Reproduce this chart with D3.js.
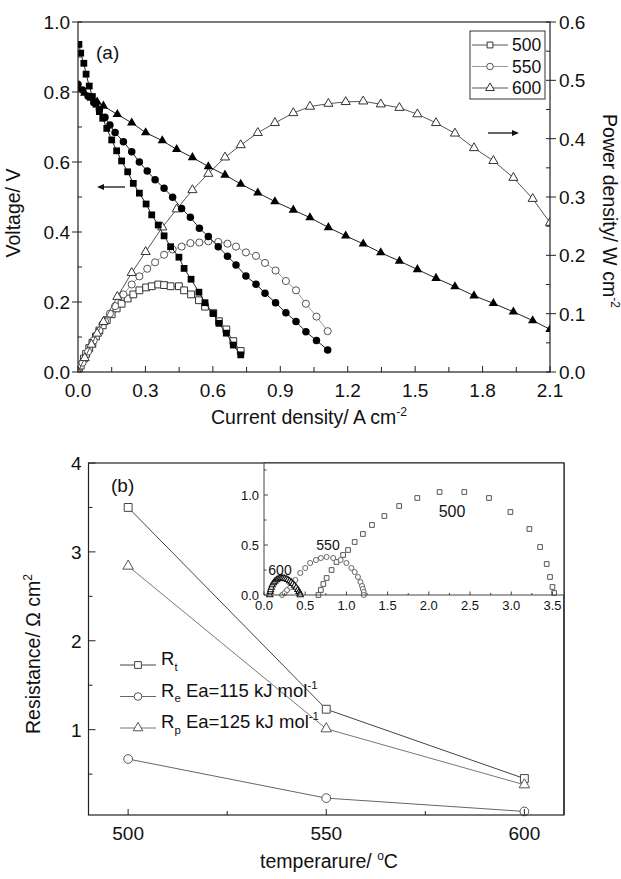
<!DOCTYPE html>
<html>
<head>
<meta charset="utf-8">
<script src="https://cdn.jsdelivr.net/npm/d3@7"></script>
<style>
  body { margin: 0; background: #fff; }
  svg { display: block; }
  text { font-family: "Liberation Sans", Arial, Helvetica, sans-serif; fill: #111; }
</style>
</head>
<body>
<svg id="chart" width="621" height="879"></svg>
<script>
// ---------- (a) I-V and I-P curves ----------
const current500 = [0.004, 0.012, 0.026, 0.036, 0.050, 0.064, 0.080, 0.095, 0.110, 0.128, 0.150, 0.172, 0.194, 0.221, 0.246, 0.273, 0.303, 0.328, 0.357, 0.383, 0.412, 0.449, 0.472, 0.503, 0.538, 0.565, 0.602, 0.627, 0.660, 0.691, 0.724];
const voltage500 = [0.936, 0.911, 0.882, 0.851, 0.817, 0.787, 0.765, 0.744, 0.725, 0.696, 0.663, 0.632, 0.603, 0.572, 0.539, 0.511, 0.480, 0.449, 0.420, 0.389, 0.358, 0.328, 0.296, 0.265, 0.228, 0.198, 0.167, 0.139, 0.111, 0.077, 0.049];
const power500   = [0.004, 0.011, 0.023, 0.031, 0.041, 0.050, 0.061, 0.071, 0.080, 0.089, 0.099, 0.109, 0.117, 0.126, 0.133, 0.140, 0.145, 0.147, 0.150, 0.149, 0.147, 0.147, 0.140, 0.133, 0.123, 0.112, 0.101, 0.087, 0.073, 0.053, 0.036];

const current550 = [0, 0.020, 0.045, 0.070, 0.095, 0.120, 0.142, 0.165, 0.202, 0.239, 0.273, 0.308, 0.343, 0.383, 0.421, 0.461, 0.500, 0.540, 0.580, 0.624, 0.665, 0.703, 0.747, 0.792, 0.832, 0.879, 0.925, 0.970, 1.014, 1.061, 1.111];
const voltage550 = [0.822, 0.806, 0.788, 0.770, 0.750, 0.728, 0.706, 0.684, 0.658, 0.629, 0.600, 0.574, 0.549, 0.525, 0.499, 0.467, 0.442, 0.411, 0.387, 0.358, 0.331, 0.306, 0.274, 0.251, 0.225, 0.198, 0.169, 0.144, 0.115, 0.090, 0.063];
const power550   = [0, 0.016, 0.035, 0.054, 0.071, 0.087, 0.100, 0.113, 0.133, 0.150, 0.164, 0.177, 0.188, 0.201, 0.210, 0.215, 0.221, 0.222, 0.224, 0.223, 0.220, 0.215, 0.205, 0.199, 0.187, 0.174, 0.156, 0.140, 0.117, 0.095, 0.070];

const current600 = [0, 0.030, 0.060, 0.085, 0.113, 0.175, 0.239, 0.301, 0.375, 0.439, 0.509, 0.580, 0.654, 0.724, 0.800, 0.876, 0.958, 1.032, 1.114, 1.191, 1.269, 1.347, 1.430, 1.510, 1.593, 1.677, 1.762, 1.848, 1.937, 2.023, 2.100];
const voltage600 = [0.810, 0.797, 0.783, 0.772, 0.760, 0.736, 0.712, 0.684, 0.661, 0.636, 0.613, 0.587, 0.563, 0.537, 0.512, 0.487, 0.463, 0.441, 0.413, 0.389, 0.366, 0.341, 0.317, 0.293, 0.268, 0.244, 0.218, 0.196, 0.172, 0.147, 0.122];
const power600   = [0, 0.024, 0.047, 0.066, 0.086, 0.129, 0.170, 0.206, 0.248, 0.279, 0.312, 0.340, 0.368, 0.389, 0.410, 0.427, 0.444, 0.455, 0.460, 0.463, 0.464, 0.459, 0.453, 0.442, 0.427, 0.409, 0.384, 0.362, 0.333, 0.297, 0.256];

const legendLabelsA = ["500", "550", "600"];
const currentTicks = [0, 0.3, 0.6, 0.9, 1.2, 1.5, 1.8, 2.1];
const voltageTicks = [0, 0.2, 0.4, 0.6, 0.8, 1.0];
const powerTicks = [0, 0.1, 0.2, 0.3, 0.4, 0.5, 0.6];

// ---------- (b) resistances vs temperature ----------
const temperatures = [500, 550, 600];
const resistTotal = [3.50, 1.23, 0.45];
const resistElectrolyte = [0.67, 0.23, 0.08];
const resistPolarization = [2.84, 1.01, 0.38];
const temperatureTicks = [500, 550, 600];
const resistanceTicks = [1, 2, 3, 4];

// impedance spectra (inset)
const z500Re = [0.66, 0.69, 0.72, 0.76, 0.82, 0.88, 0.96, 1.02, 1.10, 1.20, 1.31, 1.46, 1.64, 1.86, 2.13, 2.43, 2.73, 2.99, 3.22, 3.35, 3.43, 3.47, 3.50, 3.52];
const z500Im = [0.00, 0.05, 0.11, 0.17, 0.25, 0.33, 0.40, 0.45, 0.53, 0.61, 0.70, 0.79, 0.89, 0.97, 1.03, 1.03, 0.97, 0.83, 0.66, 0.48, 0.31, 0.18, 0.08, 0.02];
const z550Re = [0.22, 0.25, 0.28, 0.32, 0.38, 0.44, 0.50, 0.56, 0.63, 0.69, 0.76, 0.84, 0.93, 1.00, 1.06, 1.10, 1.14, 1.17, 1.19, 1.20, 1.21, 1.21];
const z550Im = [0.00, 0.02, 0.05, 0.08, 0.15, 0.22, 0.27, 0.32, 0.35, 0.37, 0.38, 0.37, 0.35, 0.32, 0.27, 0.23, 0.18, 0.13, 0.09, 0.06, 0.03, 0.00];
const z600Re = [0.07, 0.075, 0.08, 0.09, 0.10, 0.115, 0.13, 0.15, 0.17, 0.19, 0.21, 0.23, 0.25, 0.27, 0.29, 0.31, 0.33, 0.35, 0.37, 0.39, 0.41, 0.425, 0.435, 0.44];
const z600Im = [0.00, 0.03, 0.05, 0.075, 0.10, 0.12, 0.135, 0.15, 0.16, 0.165, 0.168, 0.168, 0.165, 0.16, 0.152, 0.14, 0.128, 0.113, 0.095, 0.075, 0.052, 0.033, 0.015, 0.00];
const insetXTicks = [0, 0.5, 1.0, 1.5, 2.0, 2.5, 3.0, 3.5];
const insetYTicks = [0, 0.5, 1.0];

// ---------- helpers ----------
const svg = d3.select("#chart");
const f1 = d3.format(".1f");
const TICK_FONT = 19, TITLE_FONT = 19.5;

function tickMarks(g, scale, values, orient, pos, inLen, outLen, color) {
  values.forEach(v => {
    const p = scale(v);
    const l = g.append("line").attr("stroke", color || "#222").attr("stroke-width", 1);
    if (orient === "left") l.attr("x1", pos - outLen).attr("x2", pos + inLen).attr("y1", p).attr("y2", p);
    else if (orient === "right") l.attr("x1", pos - inLen).attr("x2", pos + outLen).attr("y1", p).attr("y2", p);
    else l.attr("y1", pos - inLen).attr("y2", pos + outLen).attr("x1", p).attr("x2", p);
  });
}

function tickLabels(g, scale, values, fmt, orient, pos, size) {
  values.forEach(v => {
    const t = g.append("text").text(fmt(v)).attr("font-size", size);
    if (orient === "left") t.attr("x", pos).attr("y", scale(v)).attr("dy", "0.36em").attr("text-anchor", "end");
    else if (orient === "right") t.attr("x", pos).attr("y", scale(v)).attr("dy", "0.36em").attr("text-anchor", "start");
    else t.attr("x", scale(v)).attr("y", pos).attr("dy", "0.36em").attr("text-anchor", "middle");
  });
}

// text made of plain, superscript and subscript parts
function richText(g, x, y, parts, size, anchor, angle) {
  const t = g.append("text").attr("font-size", size).attr("text-anchor", anchor || "middle")
    .attr("transform", `translate(${x},${y}) rotate(${angle || 0})`).attr("dy", "0.36em");
  let shift = 0;
  parts.forEach(p => {
    const s = t.append("tspan").text(p.t);
    let target = 0;
    if (p.sup) { target = -size * 0.42; s.attr("font-size", size * 0.62); }
    if (p.sub) { target = size * 0.32; s.attr("font-size", size * 0.62); }
    s.attr("dy", target - shift);
    shift = target;
  });
  return t;
}

function series(g, xs, ys, xScale, yScale, o) {
  const pts = xs.map((x, i) => [xScale(x), yScale(ys[i])]);
  if (o.line) g.append("path").attr("d", d3.line()(pts)).attr("fill", "none")
    .attr("stroke", o.line).attr("stroke-width", o.lw || 1);
  g.selectAll(null).data(pts).join("path")
    .attr("d", d3.symbol().type(o.type).size(o.size))
    .attr("transform", d => `translate(${d[0]},${d[1]})`)
    .attr("fill", o.fill).attr("stroke", o.stroke || "none").attr("stroke-width", o.sw || 1);
}

function arrow(g, x1, x2, y) {
  const dir = Math.sign(x2 - x1);
  g.append("line").attr("x1", x1).attr("x2", x2 - dir * 5).attr("y1", y).attr("y2", y)
    .attr("stroke", "#111").attr("stroke-width", 1.3);
  g.append("path").attr("d", `M${x2},${y} L${x2 - dir * 7},${y - 3} L${x2 - dir * 7},${y + 3} Z`).attr("fill", "#111");
}

// ---------- panel (a) ----------
const A = { left: 78, right: 550, top: 22, bottom: 372 };
const xA = d3.scaleLinear().domain([0, 2.1]).range([A.left, A.right]);
const yV = d3.scaleLinear().domain([0, 1]).range([A.bottom, A.top]);
const yP = d3.scaleLinear().domain([0, 0.6]).range([A.bottom, A.top]);

const defs = svg.append("defs");
defs.append("clipPath").attr("id", "clipA").append("rect")
  .attr("x", A.left).attr("y", A.top).attr("width", A.right - A.left).attr("height", A.bottom - A.top);

const gA = svg.append("g");
const plotA = gA.append("g").attr("clip-path", "url(#clipA)");

const sq = d3.symbolSquare, ci = d3.symbolCircle, tr = d3.symbolTriangle;

// power density (open symbols)
series(plotA, current500, power500, xA, yP, { type: sq, size: 46, fill: "#fff", stroke: "#333", line: "#666" });
series(plotA, current550, power550, xA, yP, { type: ci, size: 40, fill: "#fff", stroke: "#555", line: "#999" });
series(plotA, current600, power600, xA, yP, { type: tr, size: 36, fill: "#fff", stroke: "#333", line: "#555" });
// voltage (filled symbols)
series(plotA, current500, voltage500, xA, yV, { type: sq, size: 46, fill: "#000", line: "#222" });
series(plotA, current550, voltage550, xA, yV, { type: ci, size: 44, fill: "#000", line: "#222" });
series(plotA, current600, voltage600, xA, yV, { type: tr, size: 38, fill: "#000", line: "#222" });

gA.append("rect").attr("x", A.left).attr("y", A.top).attr("width", A.right - A.left)
  .attr("height", A.bottom - A.top).attr("fill", "none").attr("stroke", "#222").attr("stroke-width", 1.2);

tickMarks(gA, yV, voltageTicks, "left", A.left, 4, 6);
tickMarks(gA, yV, [0.1, 0.3, 0.5, 0.7, 0.9], "left", A.left, 4, 0);
tickMarks(gA, yP, powerTicks, "right", A.right, 4, 6);
tickMarks(gA, yP, [0.05, 0.15, 0.25, 0.35, 0.45, 0.55], "right", A.right, 4, 0);
tickMarks(gA, xA, currentTicks, "bottom", A.bottom, 6, 0);
tickMarks(gA, xA, [0.15, 0.45, 0.75, 1.05, 1.35, 1.65, 1.95], "bottom", A.bottom, 5, 0);

tickLabels(gA, yV, voltageTicks, f1, "left", A.left - 8, TICK_FONT);
tickLabels(gA, yP, powerTicks, f1, "right", A.right + 9, TICK_FONT);
tickLabels(gA, xA, currentTicks, f1, "bottom", A.bottom + 18, TICK_FONT);

richText(gA, 309, 424, [{ t: "Current density/ A cm" }, { t: "-2", sup: true }], TITLE_FONT, "middle");
richText(gA, 20, 213, [{ t: "Voltage/ V" }], TITLE_FONT, "middle", -90);
richText(gA, 603, 211, [{ t: "Power density/ W cm" }, { t: "-2", sup: true }], TITLE_FONT, "middle", 90);

gA.append("text").text("(a)").attr("x", 96).attr("y", 52).attr("dy", "0.36em").attr("font-size", TICK_FONT);

arrow(gA, 125, 97, 187);
arrow(gA, 488, 519, 133);

// legend (a)
const legA = gA.append("g");
legA.append("rect").attr("x", 470).attr("y", 31).attr("width", 75).attr("height", 68)
  .attr("fill", "#fff").attr("stroke", "#333").attr("stroke-width", 1);
const legStyles = [
  { type: sq, size: 34, line: "#555", stroke: "#333" },
  { type: ci, size: 34, line: "#999", stroke: "#555" },
  { type: tr, size: 34, line: "#555", stroke: "#333" }
];
legendLabelsA.forEach((lab, i) => {
  const y = 45 + i * 21.5;
  legA.append("line").attr("x1", 472).attr("x2", 508).attr("y1", y).attr("y2", y)
    .attr("stroke", legStyles[i].line).attr("stroke-width", 1.1);
  legA.append("path").attr("d", d3.symbol().type(legStyles[i].type).size(legStyles[i].size))
    .attr("transform", `translate(490,${y})`).attr("fill", "#fff").attr("stroke", legStyles[i].stroke);
  legA.append("text").text(lab).attr("x", 512).attr("y", y).attr("dy", "0.36em").attr("font-size", 17.5);
});

// ---------- panel (b) ----------
const B = { left: 88.5, right: 564, top: 463, bottom: 815 };
const xB = d3.scaleLinear().domain([490, 610]).range([B.left, B.right]);
const yB = d3.scaleLinear().domain([0.04, 4]).range([B.bottom, B.top]);
const gB = svg.append("g");

series(gB, temperatures, resistTotal, xB, yB, { type: sq, size: 62, fill: "#fff", stroke: "#444", line: "#444" });
series(gB, temperatures, resistElectrolyte, xB, yB, { type: ci, size: 60, fill: "#fff", stroke: "#555", line: "#666" });
series(gB, temperatures, resistPolarization, xB, yB, { type: tr, size: 48, fill: "#fff", stroke: "#555", line: "#777" });

gB.append("rect").attr("x", B.left).attr("y", B.top).attr("width", B.right - B.left)
  .attr("height", B.bottom - B.top).attr("fill", "none").attr("stroke", "#222").attr("stroke-width", 1.2);

tickMarks(gB, yB, resistanceTicks, "left", B.left, 7, 0);
tickMarks(gB, yB, [0.5, 1.5, 2.5, 3.5], "left", B.left, 4, 0);
tickMarks(gB, xB, temperatureTicks, "bottom", B.bottom, 6, 0);
tickMarks(gB, xB, [525, 575], "bottom", B.bottom, 4, 0);
tickLabels(gB, yB, resistanceTicks, d3.format("d"), "left", B.left - 7, TICK_FONT);
tickLabels(gB, xB, temperatureTicks, d3.format("d"), "bottom", B.bottom + 18, TICK_FONT);

richText(gB, 329, 868, [{ t: "temperarure/ " }, { t: "o", sup: true }, { t: "C" }], TITLE_FONT, "middle");
richText(gB, 40, 654, [{ t: "Resistance/ Ω cm" }, { t: "2", sup: true }], TITLE_FONT, "middle", -90);
gB.append("text").text("(b)").attr("x", 111).attr("y", 485).attr("dy", "0.36em").attr("font-size", TICK_FONT);

// legend (b)
const legB = [
  { parts: [{ t: "R" }, { t: "t", sub: true }], style: { type: sq, size: 46, stroke: "#444", line: "#444" } },
  { parts: [{ t: "R" }, { t: "e", sub: true }, { t: " Ea=115 kJ mol" }, { t: "-1", sup: true }], style: { type: ci, size: 46, stroke: "#555", line: "#666" } },
  { parts: [{ t: "R" }, { t: "p", sub: true }, { t: " Ea=125 kJ mol" }, { t: "-1", sup: true }], style: { type: tr, size: 40, stroke: "#555", line: "#777" } }
];
legB.forEach((e, i) => {
  const y = 665 + i * 31.5;
  gB.append("line").attr("x1", 120).attr("x2", 156).attr("y1", y).attr("y2", y)
    .attr("stroke", e.style.line).attr("stroke-width", 1);
  gB.append("path").attr("d", d3.symbol().type(e.style.type).size(e.style.size))
    .attr("transform", `translate(138,${y})`).attr("fill", "#fff").attr("stroke", e.style.stroke);
  richText(gB, 161, y, e.parts, 18.5, "start");
});

// inset: impedance spectra
const I = { left: 264, right: B.right, top: B.top, bottom: 595 };
const xI = d3.scaleLinear().domain([0, 3.64]).range([I.left, I.right]);
const yI = d3.scaleLinear().domain([0, 1.32]).range([I.bottom, I.top]);
const gI = svg.append("g");
gI.append("rect").attr("x", I.left).attr("y", I.top).attr("width", I.right - I.left)
  .attr("height", I.bottom - I.top).attr("fill", "#fff").attr("stroke", "none");

series(gI, z500Re, z500Im, xI, yI, { type: sq, size: 22, fill: "#fff", stroke: "#555", sw: 1 });
series(gI, z550Re, z550Im, xI, yI, { type: ci, size: 20, fill: "#fff", stroke: "#666", sw: 1 });
series(gI, z600Re, z600Im, xI, yI, { type: tr, size: 16, fill: "#fff", stroke: "#111", sw: 1.1 });

gI.append("line").attr("x1", I.left).attr("x2", I.left).attr("y1", I.top).attr("y2", I.bottom).attr("stroke", "#444");
gI.append("line").attr("x1", I.left).attr("x2", I.right).attr("y1", I.bottom).attr("y2", I.bottom).attr("stroke", "#444");
gI.append("line").attr("x1", I.left).attr("x2", I.right).attr("y1", I.top).attr("y2", I.top).attr("stroke", "#222").attr("stroke-width", 1.2);
gI.append("line").attr("x1", I.right).attr("x2", I.right).attr("y1", I.top).attr("y2", B.bottom).attr("stroke", "#222").attr("stroke-width", 1.2);

tickMarks(gI, yI, insetYTicks, "left", I.left, 4, 0, "#444");
tickMarks(gI, yI, [0.25, 0.75, 1.25], "left", I.left, 2.5, 0, "#444");
tickMarks(gI, xI, insetXTicks, "bottom", I.bottom, 3.5, 0, "#444");
tickMarks(gI, xI, [0.25, 0.75, 1.25, 1.75, 2.25, 2.75, 3.25], "bottom", I.bottom, 2, 0, "#444");
tickLabels(gI, yI, insetYTicks, f1, "left", I.left - 5, 13);
tickLabels(gI, xI, insetXTicks, f1, "bottom", I.bottom + 10, 13);

gI.append("text").text("600").attr("x", 280).attr("y", 570).attr("dy", "0.36em").attr("text-anchor", "middle").attr("font-size", 14);
gI.append("text").text("550").attr("x", 328).attr("y", 545).attr("dy", "0.36em").attr("text-anchor", "middle").attr("font-size", 14);
gI.append("text").text("500").attr("x", 452).attr("y", 511).attr("dy", "0.36em").attr("text-anchor", "middle").attr("font-size", 16);
</script>
</body>
</html>
